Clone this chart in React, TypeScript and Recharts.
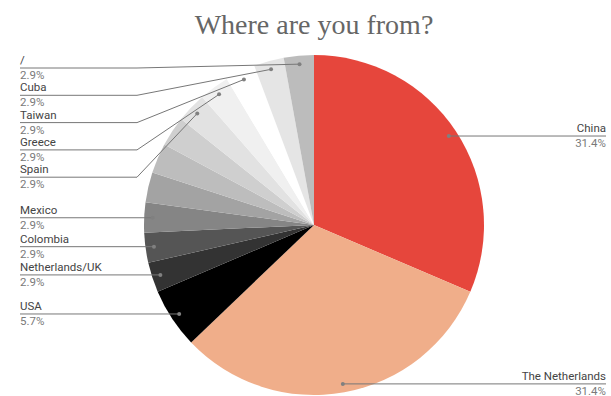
import React from 'react';
import { PieChart, Pie, Cell } from 'recharts';

// survey answers, clockwise from 12 o'clock
const COUNTRIES = ['China', 'The Netherlands', 'USA', 'Netherlands/UK', 'Colombia', 'Mexico', '', '', '', 'Spain', 'Greece', 'Taiwan', 'Cuba', '/'];
const RESPONDENTS = [11, 11, 2, 1, 1, 1, 1, 1, 1, 1, 1, 1, 1, 1];
const SLICE_COLORS = [
  '#e6463c', '#f0ae8a', '#000000', '#333333', '#555555', '#858585', '#a3a3a3',
  '#bdbdbd', '#cfcfcf', '#e2e2e2', '#f0f0f0', '#ffffff', '#e5e5e5', '#bcbcbc',
];

const data = COUNTRIES.map((name, i) => ({ name, value: RESPONDENTS[i], fill: SLICE_COLORS[i] }));
const total = RESPONDENTS.reduce((a, b) => a + b, 0);

const CX = 314;
const CY = 225;
const R = 170;
const DOT_R = R * 0.95;
const LEFT_X = 20;
const ELBOW_X = 137;
const RIGHT_X = 606;
const ROW = 27.3;
const TOP_Y = 68;
const RAD = Math.PI / 180;

// where each left label's rule sits: follow the slice, but stack top-down so they don't overlap
const labelY: number[] = (() => {
  let acc = 0;
  const anchors = RESPONDENTS.map((v, i) => {
    const mid = (acc + v / 2) / total * 360;
    acc += v;
    return { i, x: CX + DOT_R * Math.sin(mid * RAD), y: CY - DOT_R * Math.cos(mid * RAD) };
  });
  const out: number[] = anchors.map(a => a.y);
  const left = anchors.filter(a => a.x < CX && COUNTRIES[a.i] !== '').sort((a, b) => a.y - b.y);
  let prev = -Infinity;
  left.forEach(a => {
    const y = Math.max(a.y, prev + ROW, TOP_Y);
    out[a.i] = y;
    prev = y;
  });
  return out;
})();

const renderLabel = (props: any) => {
  const { cx, cy, midAngle, outerRadius, index, name, value } = props;
  if (!name) return null;
  const r = outerRadius * 0.95;
  const dx = cx + r * Math.cos(-midAngle * RAD);
  const dy = cy + r * Math.sin(-midAngle * RAD);
  const pct = `${((value / total) * 100).toFixed(1)}%`;
  const isLeft = dx < cx;
  const ly = isLeft ? labelY[index] : dy;
  const tx = isLeft ? LEFT_X : RIGHT_X;
  const anchor = isLeft ? 'start' : 'end';
  const pts = isLeft ? `${LEFT_X},${ly} ${ELBOW_X},${ly} ${dx},${dy}` : `${dx},${dy} ${RIGHT_X},${ly}`;
  return (
    <g key={`lbl-${index}`}>
      <polyline points={pts} fill="none" stroke="#777777" strokeWidth={1} />
      <circle cx={dx} cy={dy} r={2} fill="#808080" />
      <text x={tx} y={ly - 4} textAnchor={anchor} fontSize={11.5} fontFamily="Roboto" fill="#444444">{name}</text>
      <text x={tx} y={ly + 11} textAnchor={anchor} fontSize={11.5} fontFamily="Roboto" fill="#7a7a7a">{pct}</text>
    </g>
  );
};

export default function App() {
  return (
    <div style={{ position: 'absolute', left: 0, top: 0, width: 611, height: 396, background: '#fff' }}>
      <div
        style={{
          position: 'absolute', left: 0, top: 8, width: 628, textAlign: 'center',
          fontFamily: '"Liberation Serif", serif', fontSize: 28, color: '#666666', lineHeight: '34px',
        }}
      >
        Where are you from?
      </div>
      <PieChart
        width={611}
        height={396}
        margin={{ top: 0, right: 0, bottom: 0, left: 0 }}
        style={{ position: 'absolute', left: 0, top: 0 }}
      >
        <Pie
          data={data}
          dataKey="value"
          nameKey="name"
          cx={CX}
          cy={CY}
          outerRadius={R}
          startAngle={90}
          endAngle={-270}
          stroke="none"
          label={renderLabel}
          labelLine={false}
          isAnimationActive={false}
        >
          {data.map((entry, index) => (
            <Cell key={`cell-${index}`} fill={entry.fill} />
          ))}
        </Pie>
      </PieChart>
    </div>
  );
}
